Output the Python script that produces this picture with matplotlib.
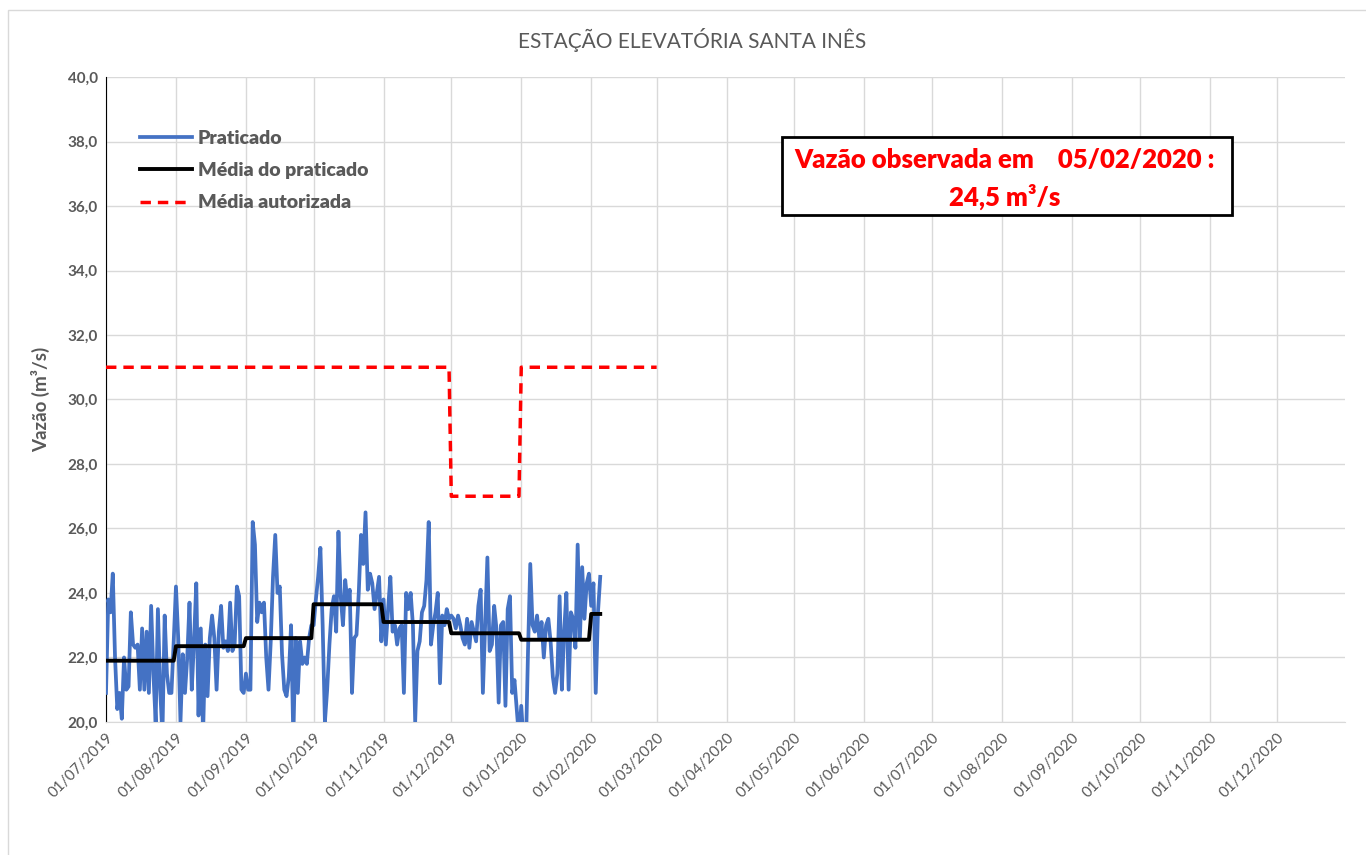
import matplotlib
matplotlib.use("Agg")
import matplotlib.pyplot as plt
import matplotlib.dates as mdates
from matplotlib.patches import Rectangle
from matplotlib.ticker import FuncFormatter
import numpy as np
import pandas as pd

# -----------------------------
# dados (vazão diária, m³/s)
# -----------------------------
jul = [20.9, 23.8, 23.4, 24.6, 22.0, 20.4, 20.9, 20.1, 22.0, 21.0, 21.1, 23.4, 22.4, 22.3, 22.4, 21.0,
       22.9, 21.0, 22.8, 20.9, 23.6, 21.5, 20.0, 23.5, 21.0, 19.6, 23.3, 21.5, 20.9, 20.9, 22.5]
ago = [24.2, 22.6, 20.0, 22.1, 20.9, 22.0, 23.7, 21.0, 22.5, 24.3, 20.2, 22.9, 19.6, 22.4, 20.8, 22.6,
       23.3, 22.6, 21.0, 22.8, 23.6, 22.3, 22.5, 22.2, 23.7, 22.2, 22.4, 24.2, 23.9, 21.0, 20.9]
set_ = [21.5, 21.0, 21.0, 26.2, 25.5, 23.1, 23.7, 23.4, 23.7, 22.0, 21.0, 22.5, 24.5, 25.8, 24.0,
        24.2, 22.1, 21.0, 20.8, 21.4, 23.0, 19.5, 22.6, 20.9, 22.5, 21.8, 22.0, 21.8, 22.6, 23.0]
out = [23.0, 23.8, 24.5, 25.4, 23.0, 20.0, 21.0, 22.4, 23.5, 23.9, 22.8, 25.9, 23.9, 23.0, 24.4, 23.7,
       24.1, 20.9, 22.6, 22.7, 24.0, 25.8, 24.9, 26.5, 24.1, 24.6, 24.3, 23.5, 24.0, 24.5, 22.5]
nov = [23.8, 22.4, 23.5, 24.5, 22.8, 23.0, 22.4, 22.9, 23.0, 20.9, 24.0, 23.5, 24.0, 23.0, 20.0,
       22.2, 22.5, 23.4, 23.6, 24.4, 26.2, 22.4, 23.0, 23.4, 24.0, 21.2, 23.3, 23.0, 23.5, 23.2]
dez = [23.3, 23.2, 22.9, 23.3, 23.0, 22.6, 22.4, 23.2, 22.3, 23.1, 22.8, 22.5, 23.6, 24.1, 20.9, 23.0,
       25.1, 22.2, 22.4, 23.6, 22.9, 20.6, 23.0, 23.1, 20.5, 23.5, 23.9, 20.9, 21.3, 20.4, 19.5]
jan = [20.5, 19.4, 19.0, 22.2, 24.9, 23.0, 22.8, 23.3, 22.6, 23.1, 22.0, 23.0, 23.2, 22.5, 21.4, 20.9,
       21.5, 23.9, 21.0, 22.8, 24.0, 21.0, 23.4, 23.2, 22.3, 25.5, 22.6, 24.8, 23.2, 24.3, 24.6]
fev = [23.6, 24.3, 20.9, 23.4, 24.5]

praticado = jul + ago + set_ + out + nov + dez + jan + fev
datas = pd.date_range("2019-07-01", periods=len(praticado), freq="D")

# média mensal do praticado
meses = ["2019-07", "2019-08", "2019-09", "2019-10", "2019-11", "2019-12", "2020-01", "2020-02"]
media_praticado = [21.9, 22.35, 22.6, 23.65, 23.1, 22.75, 22.55, 23.35]

# média autorizada por mês
meses_aut = ["2019-07", "2019-08", "2019-09", "2019-10", "2019-11", "2019-12", "2020-01", "2020-02", "2020-03"]
media_autorizada = [31, 31, 31, 31, 31, 27, 31, 31, 31]

mp = dict(zip(meses, media_praticado))
serie_media = [mp[d.strftime("%Y-%m")] for d in datas]

datas_aut = pd.date_range("2019-07-01", "2020-03-01", freq="D")
ma = dict(zip(meses_aut, media_autorizada))
serie_aut = [ma[d.strftime("%Y-%m")] for d in datas_aut]

# -----------------------------
# gráfico
# -----------------------------
plt.rcParams["font.family"] = ["Lato", "DejaVu Sans"]
cinza = "#595959"

fig = plt.figure(figsize=(13.66, 8.55), dpi=100)
ax = fig.add_axes([0.0776, 0.1556, 0.9070, 0.7543])

ax.plot(datas, praticado, color="#4472C4", lw=2.7, label="Praticado", zorder=3)
ax.plot(datas, serie_media, color="black", lw=2.8, label="Média do praticado", zorder=4)
ax.plot(datas_aut, serie_aut, color="#FF0000", lw=2.5, ls=(0, (3, 2)), label="Média autorizada", zorder=4)

ax.set_xlim(pd.Timestamp("2019-07-01"), pd.Timestamp("2020-12-31"))
ax.set_ylim(20, 40)
ax.set_yticks(np.arange(20, 40.1, 2))
ax.yaxis.set_major_formatter(FuncFormatter(lambda v, p: f"{v:.1f}".replace(".", ",")))
ax.xaxis.set_major_locator(mdates.MonthLocator(bymonthday=1))
ax.xaxis.set_major_formatter(mdates.DateFormatter("%d/%m/%Y"))

ax.grid(True, color="#d9d9d9", lw=1)
ax.set_axisbelow(True)
for s in ["top", "right"]:
    ax.spines[s].set_visible(False)
ax.spines["left"].set_color("black")
ax.spines["bottom"].set_color("#d9d9d9")
ax.tick_params(length=0, pad=6)

for lab in ax.get_yticklabels():
    lab.set_fontweight("bold")
    lab.set_fontsize(11)
    lab.set_color(cinza)
for lab in ax.get_xticklabels():
    lab.set_rotation(45)
    lab.set_ha("right")
    lab.set_rotation_mode("anchor")
    lab.set_fontsize(11)
    lab.set_color(cinza)

ax.set_ylabel("Vazão (m³/s)", fontsize=13.5, fontweight="bold", color=cinza, labelpad=12)
fig.text(0.5065, 0.953, "ESTAÇÃO ELEVATÓRIA SANTA INÊS", ha="center", va="center",
         fontsize=15, color=cinza)

leg = ax.legend(loc="upper left", bbox_to_anchor=(0.013, 0.945), frameon=False,
                fontsize=14, handlelength=2.7, handletextpad=0.3, labelspacing=0.78)
for t in leg.get_texts():
    t.set_fontweight("heavy")
    t.set_color(cinza)

# caixa da vazão observada
fig.add_artist(Rectangle((782 / 1366, 1 - 215 / 855), 450 / 1366, 78 / 855,
                         transform=fig.transFigure, fill=True, facecolor="white",
                         edgecolor="black", lw=2))
fig.text(1005 / 1366, 1 - 160 / 855, "Vazão observada em    05/02/2020 :", ha="center", va="center",
         fontsize=18.5, fontweight="heavy", color="#FF0000")
fig.text(1005 / 1366, 1 - 197 / 855, "24,5 m³/s", ha="center", va="center",
         fontsize=18.5, fontweight="heavy", color="#FF0000")

# moldura externa
fig.add_artist(Rectangle((8 / 1366, -0.01), 1.1, 1 - 10 / 855 + 0.01,
                         transform=fig.transFigure, fill=False, edgecolor="#d9d9d9", lw=1))

fig.savefig("out.png", dpi=100)
